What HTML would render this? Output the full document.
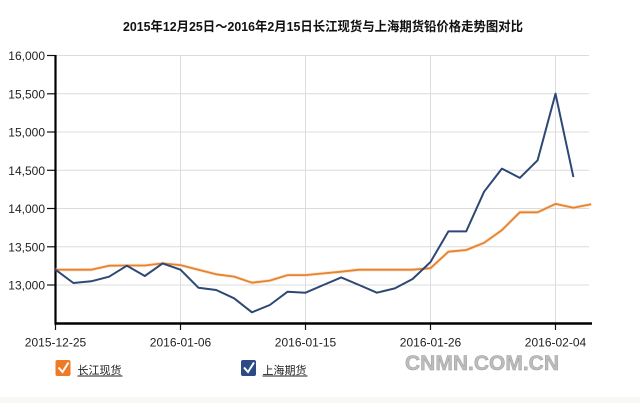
<!DOCTYPE html>
<html>
<head>
<meta charset="utf-8">
<style>
html,body{margin:0;padding:0;background:#fff;}
body{width:640px;height:403px;overflow:hidden;position:relative;}
svg{position:absolute;left:0;top:0;}
text{font-family:"Liberation Sans","Noto Sans CJK SC",sans-serif;}
</style>
</head>
<body>
<svg width="640" height="403" viewBox="0 0 640 403" xmlns="http://www.w3.org/2000/svg">
  <rect x="0" y="0" width="640" height="403" fill="#ffffff"/>
  <rect x="0" y="397" width="640" height="6" fill="#f8f7f4"/>

  <!-- title -->
  <text x="123" y="31" font-size="13" font-weight="bold" fill="#111" textLength="400" lengthAdjust="spacingAndGlyphs" font-family="'Liberation Sans','Noto Sans CJK SC',sans-serif">2015年12月25日～2016年2月15日长江现货与上海期货铅价格走势图对比</text>

  <!-- horizontal gridlines -->
  <g stroke="#dcdcdc" stroke-width="1">
    <line x1="55" y1="55.5" x2="589" y2="55.5"/>
    <line x1="55" y1="93.8" x2="589" y2="93.8"/>
    <line x1="55" y1="132" x2="589" y2="132"/>
    <line x1="55" y1="170.3" x2="589" y2="170.3"/>
    <line x1="55" y1="208.5" x2="589" y2="208.5"/>
    <line x1="55" y1="246.8" x2="589" y2="246.8"/>
    <line x1="55" y1="285" x2="589" y2="285"/>
    <!-- vertical gridlines -->
    <line x1="180.5" y1="55" x2="180.5" y2="323"/>
    <line x1="305.5" y1="55" x2="305.5" y2="323"/>
    <line x1="430.5" y1="55" x2="430.5" y2="323"/>
    <line x1="555.5" y1="55" x2="555.5" y2="323"/>
  </g>

  <!-- y ticks -->
  <g stroke="#111" stroke-width="1.2">
    <line x1="47" y1="55.5" x2="55" y2="55.5"/>
    <line x1="47" y1="93.8" x2="55" y2="93.8"/>
    <line x1="47" y1="132" x2="55" y2="132"/>
    <line x1="47" y1="170.3" x2="55" y2="170.3"/>
    <line x1="47" y1="208.5" x2="55" y2="208.5"/>
    <line x1="47" y1="246.8" x2="55" y2="246.8"/>
    <line x1="47" y1="285" x2="55" y2="285"/>
    <!-- x ticks -->
    <line x1="55.5" y1="323" x2="55.5" y2="330"/>
    <line x1="180.5" y1="323" x2="180.5" y2="330"/>
    <line x1="305.5" y1="323" x2="305.5" y2="330"/>
    <line x1="430.5" y1="323" x2="430.5" y2="330"/>
    <line x1="555.5" y1="323" x2="555.5" y2="330"/>
  </g>

  <!-- axes -->
  <line x1="55.5" y1="55" x2="55.5" y2="324.5" stroke="#000" stroke-width="2.2"/>
  <line x1="54.5" y1="323.5" x2="592" y2="323.5" stroke="#000" stroke-width="2.4"/>

  <!-- y labels -->
  <g font-size="12" fill="#222" text-anchor="end">
    <text x="45" y="60">16,000</text>
    <text x="45" y="98.3">15,500</text>
    <text x="45" y="136.5">15,000</text>
    <text x="45" y="174.8">14,500</text>
    <text x="45" y="213">14,000</text>
    <text x="45" y="251.3">13,500</text>
    <text x="45" y="289.5">13,000</text>
  </g>

  <!-- x labels -->
  <g font-size="12" fill="#222" text-anchor="middle">
    <text x="55.5" y="346.5">2015-12-25</text>
    <text x="180.5" y="346.5">2016-01-06</text>
    <text x="305.5" y="346.5">2016-01-15</text>
    <text x="430.5" y="346.5">2016-01-26</text>
    <text x="555.5" y="346.5">2016-02-04</text>
  </g>

  <!-- orange series (with soft halo) -->
  <polyline fill="none" stroke="#f9d6b6" stroke-width="3.5" stroke-linejoin="round" opacity="0.6"
    points="55.5,269.7 73.4,269.7 91.2,269.7 109.1,265.7 126.9,265.5 144.8,265.5 162.6,263.4 180.5,265.1 198.4,269.7 216.2,274.3 234.1,276.6 251.9,282.7 269.8,280.6 287.6,275.1 305.5,275.1 323.4,273.4 341.2,271.7 359.1,269.7 376.9,269.7 394.8,269.7 412.6,269.7 430.5,268.2 448.4,251.7 466.2,250.0 484.1,242.8 501.9,230.1 519.8,212.3 537.6,212.3 555.5,203.9 573.4,207.7 591.2,204.3"/>
  <polyline fill="none" stroke="#e5832e" stroke-width="1.8" stroke-linejoin="round"
    points="55.5,269.7 73.4,269.7 91.2,269.7 109.1,265.7 126.9,265.5 144.8,265.5 162.6,263.4 180.5,265.1 198.4,269.7 216.2,274.3 234.1,276.6 251.9,282.7 269.8,280.6 287.6,275.1 305.5,275.1 323.4,273.4 341.2,271.7 359.1,269.7 376.9,269.7 394.8,269.7 412.6,269.7 430.5,268.2 448.4,251.7 466.2,250.0 484.1,242.8 501.9,230.1 519.8,212.3 537.6,212.3 555.5,203.9 573.4,207.7 591.2,204.3"/>

  <!-- blue series -->
  <polyline fill="none" stroke="#2d4874" stroke-width="2" stroke-linejoin="round"
    points="55.5,269.7 73.4,283.0 91.2,281.3 109.1,276.7 126.9,265.7 144.8,276.0 162.6,263.4 180.5,269.7 198.4,287.7 216.2,290.0 234.1,298.3 251.9,312.3 269.8,305.0 287.6,291.7 305.5,292.7 323.4,285.0 341.2,277.4 359.1,285.0 376.9,292.7 394.8,288.4 412.6,279.0 430.5,262.0 448.4,231.4 466.2,231.4 484.1,191.7 501.9,168.6 519.8,177.9 537.6,160.3 555.5,93.7 573.4,177.1"/>

  <!-- legend -->
  <rect x="55.5" y="360" width="15" height="16" rx="2" fill="#ee7a25"/>
  <path d="M58.5,367.5 L62.5,372 L68.5,362.5" fill="none" stroke="#fff" stroke-width="2"/>
  <text x="77.5" y="374" font-size="11" fill="#222" font-family="'Liberation Sans','Noto Sans CJK SC',sans-serif">长江现货</text>
  <line x1="77.5" y1="376" x2="122.5" y2="376" stroke="#222" stroke-width="1"/>

  <rect x="241" y="360" width="15" height="16" rx="2" fill="#2b4a86"/>
  <path d="M244,367.5 L248,372 L254,362.5" fill="none" stroke="#fff" stroke-width="2"/>
  <text x="262.5" y="374" font-size="11" fill="#222" font-family="'Liberation Sans','Noto Sans CJK SC',sans-serif">上海期货</text>
  <line x1="262.5" y1="376" x2="307.5" y2="376" stroke="#222" stroke-width="1"/>

  <!-- watermark -->
  <text x="405" y="370" font-size="21" font-weight="bold" fill="#bdbdbd" stroke="#9c9c9c" stroke-width="0.5" font-family="'Liberation Sans',sans-serif">CNMN.COM.CN</text>
</svg>
</body>
</html>
